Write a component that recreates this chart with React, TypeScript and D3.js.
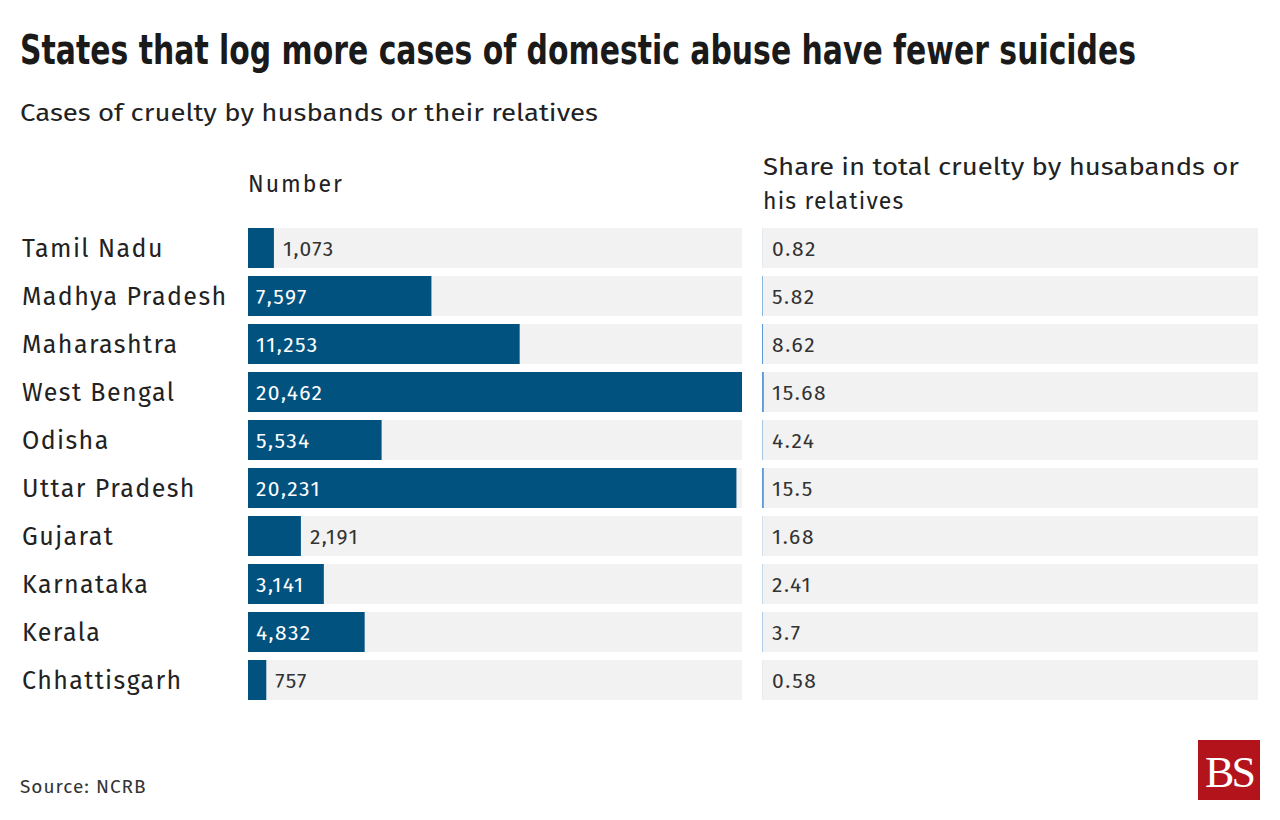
import React, { useEffect } from "react";
import * as d3 from "d3";

const states = [
  "Tamil Nadu",
  "Madhya Pradesh",
  "Maharashtra",
  "West Bengal",
  "Odisha",
  "Uttar Pradesh",
  "Gujarat",
  "Karnataka",
  "Kerala",
  "Chhattisgarh",
];
const numbers = [1073, 7597, 11253, 20462, 5534, 20231, 2191, 3141, 4832, 757];
const shares = ["0.82", "5.82", "8.62", "15.68", "4.24", "15.5", "1.68", "2.41", "3.7", "0.58"];

const W = 1280;
const H = 820;
const bodyFont = "'Fira Sans', 'Open Sans', 'Noto Sans', sans-serif";

export default function App() {
  useEffect(() => {
    document.body.style.margin = "0";
  }, []);

  const y = d3
    .scaleBand<string>()
    .domain(states)
    .range([224, 704])
    .paddingInner(1 / 6)
    .paddingOuter(1 / 12);
  const x1 = d3.scaleLinear().domain([0, d3.max(numbers) as number]).range([248, 742]);
  const x2 = d3.scaleLinear().domain([0, 4200]).range([762, 1258]);
  const fmt = d3.format(",");
  const bw = y.bandwidth();

  return (
    <svg width={W} height={H} style={{ position: "absolute", left: 0, top: 0, background: "#fff" }}>
      <text
        x={20}
        y={64}
        fontFamily="'Liberation Sans Narrow', 'DejaVu Sans Condensed', 'Roboto Condensed', sans-serif"
        fontWeight={700}
        fontSize={41}
        fill="#1a1a1a"
        textLength={1116}
        lengthAdjust="spacingAndGlyphs"
      >
        States that log more cases of domestic abuse have fewer suicides
      </text>
      <text x={20} y={121} fontFamily={bodyFont} fontSize={24} fill="#222" textLength={578} lengthAdjust="spacingAndGlyphs">
        Cases of cruelty by husbands or their relatives
      </text>
      <text x={248} y={192} fontFamily={bodyFont} fontSize={23} fill="#222" letterSpacing={2}>
        Number
      </text>
      <text x={763} y={175} fontFamily={bodyFont} fontSize={23} fill="#222" textLength={476} lengthAdjust="spacingAndGlyphs">
        Share in total cruelty by husabands or
      </text>
      <text x={763} y={209} fontFamily={bodyFont} fontSize={23} fill="#222" letterSpacing={1.2}>
        his relatives
      </text>

      {states.map((s, i) => {
        const yy = y(s) as number;
        const v = numbers[i];
        const bx = x1(v);
        const label = fmt(v);
        const inside = bx - x1(0) > 70;
        const sv = +shares[i];
        return (
          <g key={s}>
            <text x={22} y={yy + bw / 2 + 9} fontFamily={bodyFont} fontSize={25} fill="#222" letterSpacing={1.4}>
              {s}
            </text>
            <rect x={x1(0)} y={yy} width={x1.range()[1] - x1(0)} height={bw} fill="#f2f2f2" />
            <rect x={x1(0)} y={yy} width={bx - x1(0)} height={bw} fill="#01527f" />
            <text
              x={inside ? x1(0) + 8 : bx + 9}
              y={yy + bw / 2 + 8}
              fontFamily={bodyFont}
              fontSize={21}
              fill={inside ? "#fff" : "#333"}
              letterSpacing={1.4}
            >
              {label}
            </text>
            <rect x={x2(0)} y={yy} width={x2.range()[1] - x2(0)} height={bw} fill="#f2f2f2" />
            <rect x={x2(0)} y={yy} width={x2(sv) - x2(0)} height={bw} fill="#5b9bd5" />
            <text x={x2(0) + 10} y={yy + bw / 2 + 8} fontFamily={bodyFont} fontSize={21} fill="#333" letterSpacing={1.6}>
              {shares[i]}
            </text>
          </g>
        );
      })}

      <text x={20} y={793} fontFamily={bodyFont} fontSize={19} fill="#333" letterSpacing={1}>
        Source: NCRB
      </text>
      <rect x={1198} y={740} width={62} height={60} fill="#b3131b" />
      <text
        x={1229}
        y={787}
        textAnchor="middle"
        fontFamily="'Liberation Serif', 'DejaVu Serif', serif"
        fontSize={44}
        fill="#fff"
        letterSpacing={-3}
      >
        BS
      </text>
    </svg>
  );
}
